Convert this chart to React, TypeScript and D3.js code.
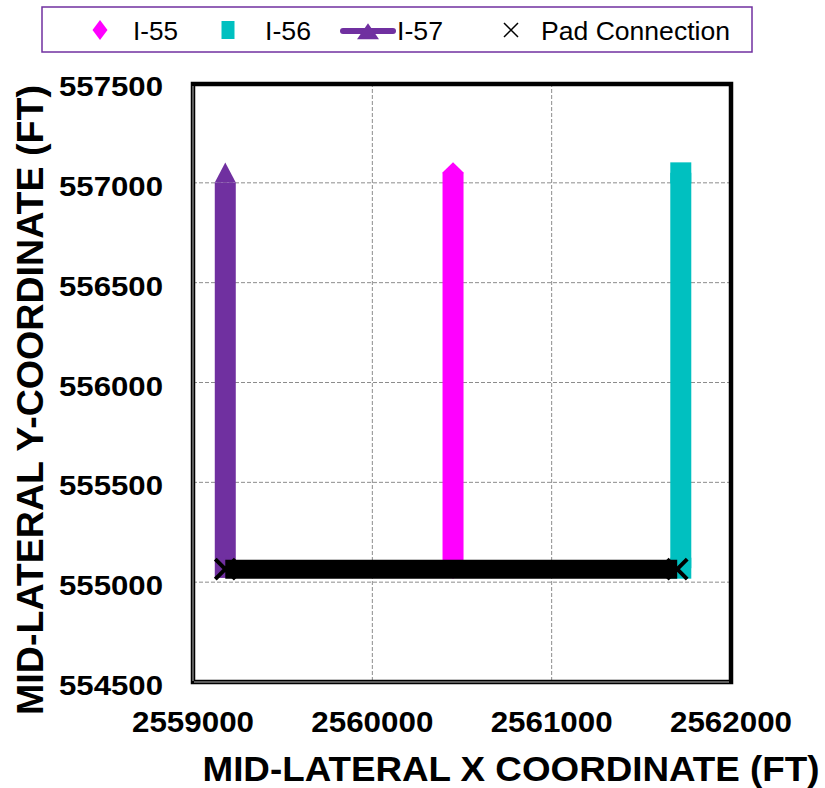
import React from "react";
import * as d3 from "d3";

// Well lateral traces (mid-lateral coordinates, ft): heel then toe
const i55Trace: [number, number][] = [
  [2560450, 555070],
  [2560450, 557050],
];
const i56Trace: [number, number][] = [
  [2561720, 555070],
  [2561720, 557050],
];
const i57Trace: [number, number][] = [
  [2559180, 555055],
  [2559180, 557035],
];
// Surface pad connection joining the laterals' heels
const padConnection: [number, number][] = [
  [2559180, 555065],
  [2561700, 555065],
];

const xTicks = [2559000, 2560000, 2561000, 2562000];
const yTicks = [554500, 555000, 555500, 556000, 556500, 557000, 557500];
const xDomain: [number, number] = [2559000, 2562000];
const yDomain: [number, number] = [554500, 557500];

const legendNames = ["I-55", "I-56", "I-57", "Pad Connection"];

const C55 = "#FF00FF";
const C56 = "#00C0C0";
const C57 = "#7030A0";

const W = 825;
const H = 788;
const plot = { left: 193, right: 731, top: 83, bottom: 682 };
const FONT = "'Liberation Sans', Arial, sans-serif";

const diamond = (cx: number, cy: number, hw: number, hh: number) =>
  `M${cx},${cy - hh}L${cx + hw},${cy}L${cx},${cy + hh}L${cx - hw},${cy}Z`;
// triangle positioned on its centroid: tip 2/3 of the height above, base 1/3 below
const triangle = (cx: number, cy: number, hw: number, h: number) =>
  `M${cx},${cy - (2 * h) / 3}L${cx + hw},${cy + h / 3}L${cx - hw},${cy + h / 3}Z`;
const square = (cx: number, cy: number, hw: number, hh: number) =>
  `M${cx - hw},${cy - hh}H${cx + hw}V${cy + hh}H${cx - hw}Z`;
const cross = (cx: number, cy: number, h: number) =>
  `M${cx - h},${cy - h}L${cx + h},${cy + h}M${cx - h},${cy + h}L${cx + h},${cy - h}`;

export default function App() {
  const x = d3.scaleLinear().domain(xDomain).range([plot.left, plot.right]);
  const y = d3.scaleLinear().domain(yDomain).range([plot.bottom, plot.top]);
  const line = d3
    .line<[number, number]>()
    .x((d) => x(d[0]))
    .y((d) => y(d[1]));

  // a dense run of markers along a trace reads as a column; `shift` is where the
  // full-width body of each marker sits relative to its centre
  const wells = [
    { trace: i57Trace, color: C57, shift: 20 / 3, marker: (cx: number, cy: number) => triangle(cx, cy, 10.5, 20) },
    { trace: i55Trace, color: C55, shift: 0, marker: (cx: number, cy: number) => diamond(cx, cy, 10.8, 10.5) },
    { trace: i56Trace, color: C56, shift: 0, marker: (cx: number, cy: number) => square(cx, cy, 10.5, 10.5) },
  ];

  const gridX = xTicks.filter((t) => t > xDomain[0] && t < xDomain[1]);
  const gridY = yTicks.filter((t) => t > yDomain[0] && t < yDomain[1]);

  return (
    <svg width={W} height={H} style={{ display: "block", position: "absolute", left: 0, top: 0 }}>
      <rect x={0} y={0} width={W} height={H} fill="#fff" />

      {/* legend */}
      <rect x={42} y={7} width={710} height={45} fill="#fff" stroke={C57} strokeWidth={1.5} />
      <path d={diamond(100, 30, 7.5, 10)} fill={C55} />
      <text x={133} y={39.5} fontFamily={FONT} fontSize={26} textLength={45} lengthAdjust="spacingAndGlyphs">
        {legendNames[0]}
      </text>
      <path d={square(228, 30, 6.5, 9)} fill={C56} />
      <text x={265} y={39.5} fontFamily={FONT} fontSize={26} textLength={46} lengthAdjust="spacingAndGlyphs">
        {legendNames[1]}
      </text>
      <line x1={343} x2={393} y1={31} y2={31} stroke={C57} strokeWidth={6} strokeLinecap="round" />
      <path d={triangle(368, 34, 11, 16)} fill={C57} />
      <text x={397} y={39.5} fontFamily={FONT} fontSize={26} textLength={46} lengthAdjust="spacingAndGlyphs">
        {legendNames[2]}
      </text>
      <path d={cross(511, 30, 7)} stroke="#000" strokeWidth={1.5} fill="none" />
      <text x={541} y={39.5} fontFamily={FONT} fontSize={26} textLength={189} lengthAdjust="spacingAndGlyphs">
        {legendNames[3]}
      </text>

      {/* grid */}
      {gridX.map((t) => (
        <line key={"gx" + t} x1={x(t)} x2={x(t)} y1={plot.top} y2={plot.bottom} stroke="#8c8c8c" strokeWidth={1} strokeDasharray="4,2" />
      ))}
      {gridY.map((t) => (
        <line key={"gy" + t} x1={plot.left} x2={plot.right} y1={y(t)} y2={y(t)} stroke="#8c8c8c" strokeWidth={1} strokeDasharray="4,2" />
      ))}

      {/* laterals */}
      {wells.map((w, i) => (
        <g key={"w" + i}>
          <path d={line(w.trace) || ""} transform={`translate(0,${w.shift})`} stroke={w.color} strokeWidth={21} fill="none" strokeLinecap="butt" />
          {w.trace.map((p, j) => (
            <path key={j} d={w.marker(x(p[0]), y(p[1]))} fill={w.color} />
          ))}
        </g>
      ))}

      {/* pad connection */}
      <path d={line(padConnection) || ""} stroke="#000" strokeWidth={19} fill="none" strokeLinecap="butt" />
      {padConnection.map((p, j) => (
        <path key={"pc" + j} d={cross(x(p[0]), y(p[1]), 10)} stroke="#000" strokeWidth={4} fill="none" />
      ))}

      {/* frame */}
      <rect x={plot.left} y={plot.top + 1} width={plot.right - plot.left} height={plot.bottom - plot.top - 1} fill="none" stroke="#000" strokeWidth={4.5} />
      <line x1={plot.left} x2={plot.left} y1={plot.top + 3} y2={plot.bottom - 1} stroke="#7a7a7a" strokeWidth={1.5} />
      <line x1={plot.left + 1} x2={plot.right - 2} y1={plot.bottom} y2={plot.bottom} stroke="#7a7a7a" strokeWidth={1.5} />

      {/* y tick labels */}
      {yTicks.map((t) => (
        <text key={"yl" + t} x={163} y={y(t) + 13} textAnchor="end" fontFamily={FONT} fontWeight="bold" fontSize={28} textLength={104} lengthAdjust="spacingAndGlyphs">
          {String(t)}
        </text>
      ))}
      {/* x tick labels */}
      {xTicks.map((t) => (
        <text key={"xl" + t} x={x(t)} y={732} textAnchor="middle" fontFamily={FONT} fontWeight="bold" fontSize={29} textLength={122} lengthAdjust="spacingAndGlyphs">
          {String(t)}
        </text>
      ))}

      {/* axis titles */}
      <text x={511} y={781} textAnchor="middle" fontFamily={FONT} fontWeight="bold" fontSize={35} textLength={617} lengthAdjust="spacingAndGlyphs">
        MID-LATERAL X COORDINATE (FT)
      </text>
      <text transform="translate(43,400) rotate(-90)" textAnchor="middle" fontFamily={FONT} fontWeight="bold" fontSize={36} textLength={630} lengthAdjust="spacingAndGlyphs">
        MID-LATERAL Y-COORDINATE (FT)
      </text>
    </svg>
  );
}
